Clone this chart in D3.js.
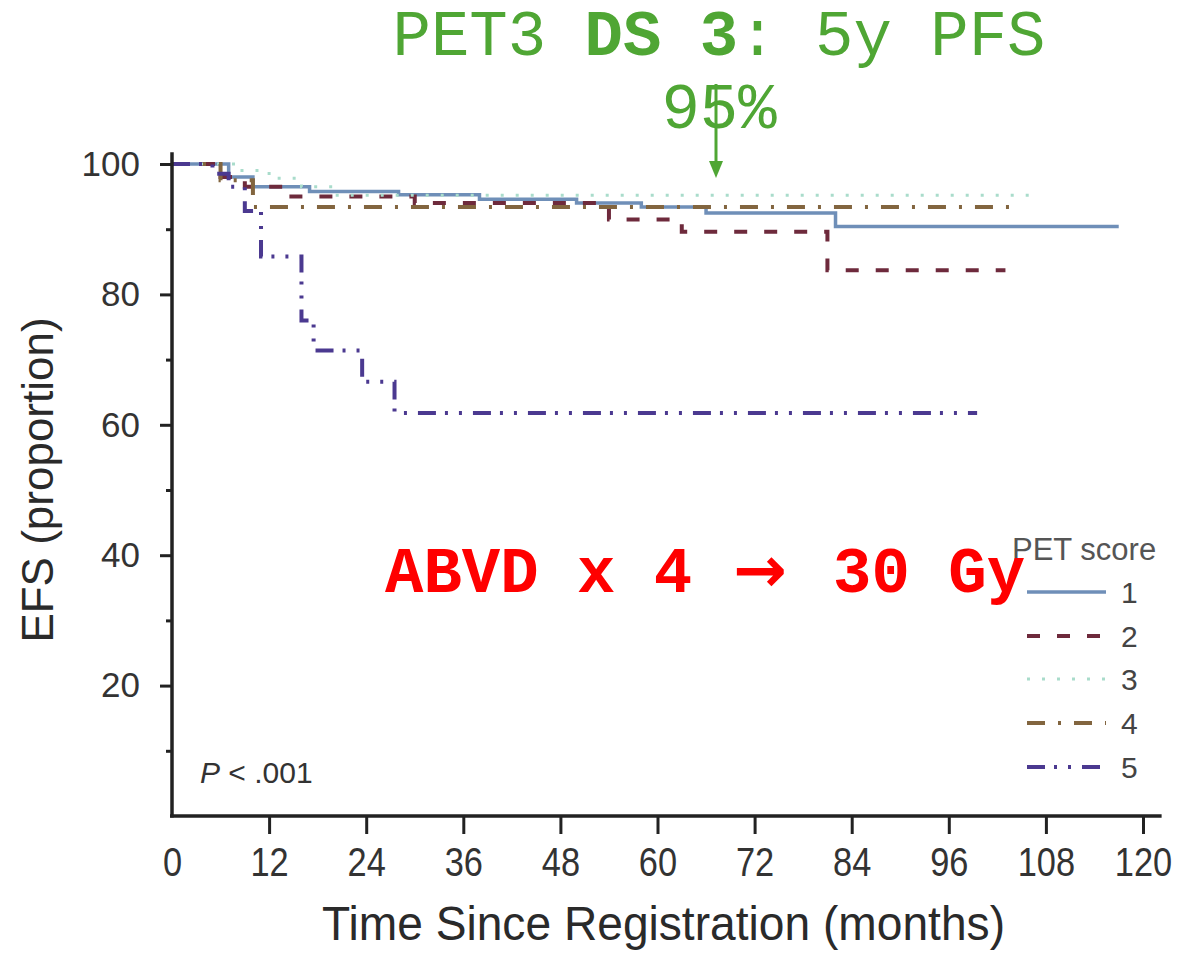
<!DOCTYPE html>
<html><head><meta charset="utf-8">
<script src="https://cdn.jsdelivr.net/npm/d3@7"></script>
<style>body{margin:0;background:#fff}</style>
</head><body>
<svg id="c" width="1177" height="953" xmlns="http://www.w3.org/2000/svg"></svg>
<script>
// ---- data ----
const scores = ["1", "2", "3", "4", "5"];
const times1 = [0, 7, 10, 17, 28, 38, 50, 58, 66, 82, 117];
const efs1   = [100, 98, 96.5, 95.8, 95.3, 94.6, 94, 93.4, 92.5, 90.4, 90.4];
const times2 = [0, 6, 9, 14, 30, 54, 63, 81, 103];
const efs2   = [100, 98, 96.5, 95, 94, 91.5, 89.6, 83.7, 83.7];
const times3 = [0, 8, 12, 16, 20, 107];
const efs3   = [100, 99, 97.8, 96.5, 95.2, 95.2];
const times4 = [0, 6, 10, 105];
const efs4   = [100, 97.5, 93.4, 93.4];
const times5 = [0, 5, 7, 9, 11, 16, 17.5, 23.5, 27.5, 99.5];
const efs5   = [100, 98.5, 96.5, 92.8, 85.8, 76, 71.4, 66.6, 61.8, 61.8];
const xTicks = [0, 12, 24, 36, 48, 60, 72, 84, 96, 108, 120];
const yTicks = [20, 40, 60, 80, 100];
const yMinorTicks = [10, 30, 50, 70, 90];

const seriesTimes = [times1, times2, times3, times4, times5];
const seriesEfs = [efs1, efs2, efs3, efs4, efs5];
const colors = ["#6f8fb8", "#6e2a3c", "#a9dccb", "#82653f", "#4b3990"];
const dashes = [null, "13,17", "3,12", "18,13,3,13", "18,9,3,11,3,11"];
const widths = [3.5, 4, 3, 4, 4];

// ---- chart ----
const svg = d3.select("#c");
const x = d3.scaleLinear().domain([0, 120]).range([172, 1143]);
const y = d3.scaleLinear().domain([0, 100]).range([816, 164]);
const sans = "Liberation Sans, Arial, sans-serif";
const mono = "Liberation Mono, Courier New, monospace";

// curves
const line = d3.line().x(d => x(d[0])).y(d => y(d[1])).curve(d3.curveStepAfter);
scores.forEach((s, i) => {
  const pts = seriesTimes[i].map((t, j) => [t, seriesEfs[i][j]]);
  svg.append("path").attr("d", line(pts))
    .attr("fill", "none").attr("stroke", colors[i])
    .attr("stroke-width", widths[i])
    .attr("stroke-dasharray", dashes[i]);
});

// y axis
const yAx = svg.append("g").attr("transform", "translate(172,0)")
  .call(d3.axisLeft(y).tickValues(yTicks).tickSize(12).tickPadding(20).tickSizeOuter(0));
yAx.select(".domain").remove();
yAx.selectAll("line").attr("stroke", "#222").attr("stroke-width", 3);
yAx.selectAll("text").attr("font-family", sans)
  .attr("font-size", 35).attr("fill", "#333");
const yMin = svg.append("g").attr("transform", "translate(172,0)")
  .call(d3.axisLeft(y).tickValues(yMinorTicks).tickSize(6).tickFormat(""));
yMin.select(".domain").remove();
yMin.selectAll("line").attr("stroke", "#222").attr("stroke-width", 3);

// x axis
const xAx = svg.append("g").attr("transform", "translate(0,816)")
  .call(d3.axisBottom(x).tickValues(xTicks).tickSize(18).tickPadding(14).tickSizeOuter(0));
xAx.select(".domain").remove();
xAx.selectAll(".tick line").attr("stroke", "#222").attr("stroke-width", 3)
  .attr("opacity", d => d === 0 ? 0 : 1);
xAx.selectAll("text").attr("font-family", sans)
  .attr("font-size", 40).attr("fill", "#333").attr("transform", "scale(0.86,1)");

// axis lines
svg.append("line").attr("x1", 172).attr("x2", 172).attr("y1", y(101.8)).attr("y2", y(0) + 1.5)
  .attr("stroke", "#222").attr("stroke-width", 3.5);
svg.append("line").attr("x1", 170).attr("x2", x(122.3)).attr("y1", y(0)).attr("y2", y(0))
  .attr("stroke", "#222").attr("stroke-width", 3.5);

// axis titles
svg.append("text").attr("x", 322).attr("y", 940)
  .attr("font-family", sans).attr("font-size", 49)
  .attr("fill", "#2a2a2a").attr("textLength", 683).attr("lengthAdjust", "spacingAndGlyphs")
  .text("Time Since Registration (months)");
svg.append("text").attr("transform", "translate(53,480) rotate(-90)")
  .attr("text-anchor", "middle")
  .attr("font-family", sans).attr("font-size", 44)
  .attr("fill", "#2a2a2a").text("EFS (proportion)");

// p value
const pt = svg.append("text").attr("x", 200).attr("y", 783)
  .attr("font-family", sans).attr("font-size", 30).attr("fill", "#333");
pt.append("tspan").attr("font-style", "italic").text("P");
pt.append("tspan").text(" < .001");

// legend
const lg = svg.append("g");
lg.append("text").attr("x", 1012).attr("y", 560)
  .attr("font-family", sans).attr("font-size", 31)
  .attr("fill", "#555").text("PET score");
const rowY = [592, 636, 679, 723, 767];
scores.forEach((s, i) => {
  lg.append("line").attr("x1", 1027).attr("x2", 1106).attr("y1", rowY[i]).attr("y2", rowY[i])
    .attr("stroke", colors[i]).attr("stroke-width", widths[i]).attr("stroke-dasharray", dashes[i]);
  lg.append("text").attr("x", 1121).attr("y", rowY[i] + 11)
    .attr("font-family", sans).attr("font-size", 30)
    .attr("fill", "#444").text(s);
});

// annotations
const green = "#4fa634";
const a1 = svg.append("text").attr("x", 719).attr("y", 55).attr("text-anchor", "middle")
  .attr("font-family", mono).attr("font-size", 64).attr("fill", green);
a1.append("tspan").text("PET3 ");
a1.append("tspan").attr("font-weight", "bold").text("DS 3");
a1.append("tspan").text(": 5y PFS");
svg.append("text").attr("x", 719).attr("y", 128).attr("text-anchor", "middle")
  .attr("font-family", mono).attr("font-size", 64).attr("fill", green)
  .text("95%");
svg.append("line").attr("x1", 716).attr("x2", 716).attr("y1", 84).attr("y2", 165)
  .attr("stroke", green).attr("stroke-width", 3);
svg.append("path").attr("d", "M709,161 L723,161 L716,178 Z").attr("fill", green);

const red = svg.append("text").attr("y", 592)
  .attr("font-family", mono).attr("font-size", 64)
  .attr("font-weight", "bold").attr("fill", "#ff0000");
red.append("tspan").attr("x", 385).text("ABVD x 4");
red.append("tspan").attr("x", 733).attr("font-family", "DejaVu Sans, sans-serif")
  .attr("font-size", 64).text("\u2192");
red.append("tspan").attr("x", 833).text("30 Gy");
</script>
</body></html>
